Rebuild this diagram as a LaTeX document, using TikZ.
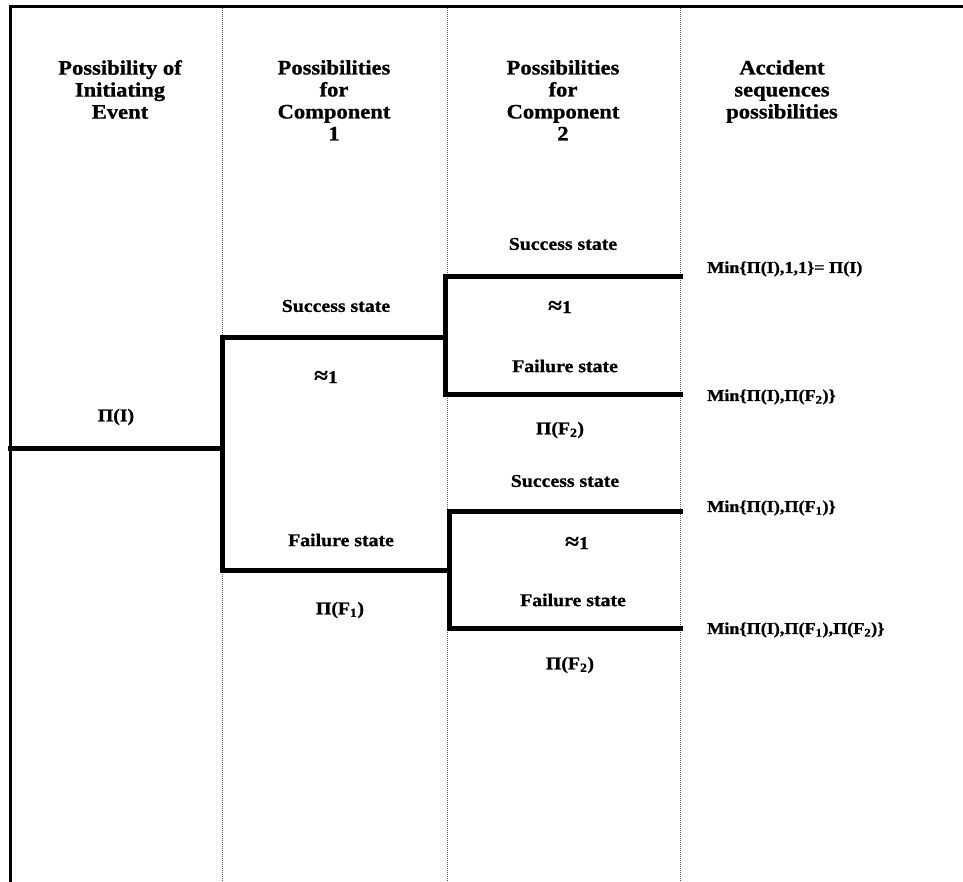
\documentclass[tikz,border=0pt]{standalone}
\usepackage{fontspec}
\newfontfamily\tbf{Liberation Serif Bold}[FakeStretch=1.1,FakeBold=1]
\newcommand{\apx}{{\fontsize{23}{20}\selectfont ≈}}
\begin{document}
\begin{tikzpicture}[x=1pt,y=-1pt,
  thickline/.style={line width=5pt,line join=miter,line cap=rect},
  frameline/.style={line width=3pt},
  sep/.style={black!65,line width=1pt,dash pattern=on 1pt off 1pt},
  head/.style={font=\tbf\fontsize{20.5}{22}\selectfont,align=center,inner sep=0pt,anchor=north},
  lab/.style={font=\tbf\fontsize{18}{20}\selectfont,inner sep=0pt},
  res/.style={font=\tbf\fontsize{16.5}{18}\selectfont,inner sep=0pt,anchor=west}]
\useasboundingbox (0,0) rectangle (963,882);
% frame
\coordinate (fb) at (10,882);
\coordinate (ftl) at (10,7);
\coordinate (ftr) at (963,7);
\draw[frameline] (fb) -- (ftl) -- (ftr);
% column separators
\foreach \x/\n in {222/a,447/b,680/c}{
  \coordinate (s\n t) at (\x,8);
  \coordinate (s\n b) at (\x,882);
  \draw[sep] (s\n t) -- (s\n b);
}
% headers
\node[head] (h1) at (120,60) {Possibility of\\Initiating\\Event};
\node[head] (h2) at (334,60) {Possibilities\\for\\Component\\1};
\node[head] (h3) at (563,60) {Possibilities\\for\\Component\\2};
\node[head] (h4) at (782,60) {Accident\\sequences\\possibilities};
% tree coordinates
\coordinate (i0) at (10,448);
\coordinate (i1) at (222,448);
\coordinate (a1) at (222,337);
\coordinate (a2) at (445,337);
\coordinate (b1) at (222,570);
\coordinate (b2) at (449,570);
\coordinate (u1) at (445,277);
\coordinate (u2) at (680,277);
\coordinate (u3) at (445,394);
\coordinate (u4) at (680,394);
\coordinate (l1) at (449,511);
\coordinate (l2) at (680,511);
\coordinate (l3) at (449,628);
\coordinate (l4) at (680,628);
\draw[thickline] (i0) -- (i1);
\draw[thickline] (a2) -- (a1) -- (b1) -- (b2);
\draw[thickline] (u2) -- (u1) -- (u3) -- (u4);
\draw[thickline] (l2) -- (l1) -- (l3) -- (l4);
% labels
\node[lab] (pI) at (116,417) {Π(I)};
\node[lab] (s1) at (336,306) {Success state};
\node[lab] (e1) at (326,377) {\apx1};
\node[lab] (f1) at (341,540) {Failure state};
\node[lab] (pF1) at (340,610) {Π(F\textsubscript{1})};
\node[lab] (s2) at (563,244) {Success state};
\node[lab] (e2) at (560,307) {\apx1};
\node[lab] (f2) at (565,366) {Failure state};
\node[lab] (pF2) at (560,430) {Π(F\textsubscript{2})};
\node[lab] (s3) at (565,481) {Success state};
\node[lab] (e3) at (577,543) {\apx1};
\node[lab] (f3) at (573,600) {Failure state};
\node[lab] (pF2b) at (570,665) {Π(F\textsubscript{2})};
% results
\node[res] (r1) at (707,269) {Min\{Π(I),1,1\}= Π(I)};
\node[res] (r2) at (707,397) {Min\{Π(I),Π(F\textsubscript{2})\}};
\node[res] (r3) at (707,508) {Min\{Π(I),Π(F\textsubscript{1})\}};
\node[res] (r4) at (707,630) {Min\{Π(I),Π(F\textsubscript{1}),Π(F\textsubscript{2})\}};
\end{tikzpicture}
\end{document}
